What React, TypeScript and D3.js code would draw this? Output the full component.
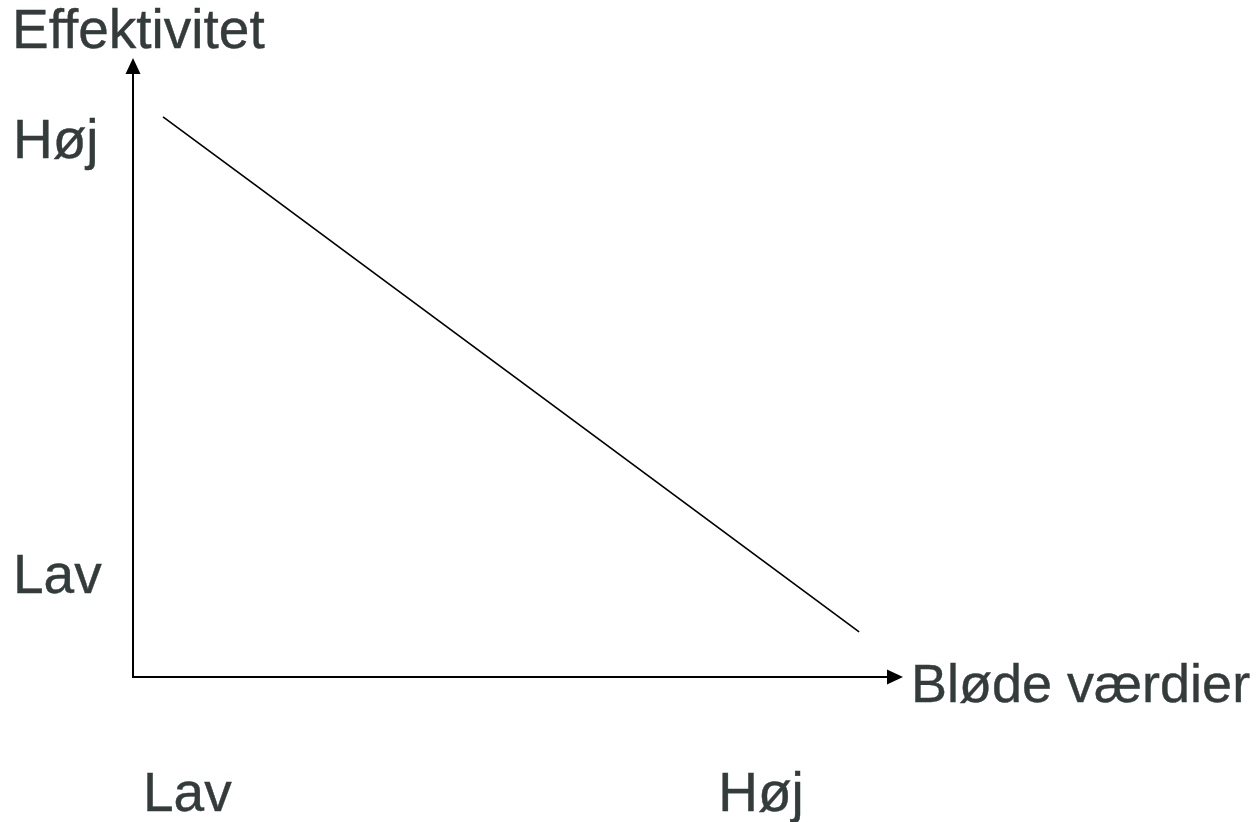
import React from "react";
import * as d3 from "d3";

const xTickLabels = ["Lav", "Høj"];
const xTickValues = [0.013, 0.76];
const yTickLabels = ["Lav", "Høj"];
const yTickValues = [0.136, 0.838];
const lineX = [0.039, 0.943];
const lineY = [0.905, 0.073];
const xTitle = "Bløde værdier";
const yTitle = "Effektivitet";

const W = 1260;
const H = 822;
const TEXT = "#343b3b";
const FONT = "'Liberation Sans', Arial, Helvetica, sans-serif";

export default function App() {
  const x = d3.scaleLinear().domain([0, 1]).range([133, 903]);
  const y = d3.scaleLinear().domain([0, 1]).range([677, 58]);
  const pts: [number, number][] = lineX.map((v, i) => [v, lineY[i]]);
  const line = d3
    .line<[number, number]>()
    .x((d) => x(d[0]))
    .y((d) => y(d[1]));
  const x0 = x(0);
  const y0 = y(0);
  const xEnd = x(1);
  const yEnd = y(1);
  const ah = 16;
  const aw = 7.5;
  const textStyle = { stroke: TEXT, strokeWidth: 0.4 };
  return (
    <svg
      width={W}
      height={H}
      style={{ position: "absolute", left: 0, top: 0, background: "#fff" }}
    >
      <rect width={W} height={H} fill="#fff" />
      {/* axes */}
      <line x1={x0} y1={y0} x2={x0} y2={yEnd + ah - 1} stroke="#000" strokeWidth={2} />
      <line x1={x0 - 1} y1={y0} x2={xEnd - ah + 1} y2={y0} stroke="#000" strokeWidth={2} />
      <path d={`M${x0},${yEnd} L${x0 - aw},${yEnd + ah} L${x0 + aw},${yEnd + ah} Z`} fill="#000" />
      <path d={`M${xEnd},${y0} L${xEnd - ah},${y0 - aw} L${xEnd - ah},${y0 + aw} Z`} fill="#000" />
      {/* trend line */}
      <path d={line(pts) || ""} fill="none" stroke="#000" strokeWidth={1.6} />
      {/* titles */}
      <text x={12} y={48} fontFamily={FONT} fontSize={55} fill={TEXT} style={textStyle}>
        {yTitle}
      </text>
      <text x={911} y={702} fontFamily={FONT} fontSize={54} fill={TEXT} style={textStyle}>
        {xTitle}
      </text>
      {/* y tick labels */}
      {yTickLabels.map((t, i) => (
        <text key={"y" + i} x={13} y={y(yTickValues[i])} fontFamily={FONT} fontSize={55} fill={TEXT} style={textStyle}>
          {t}
        </text>
      ))}
      {/* x tick labels */}
      {xTickLabels.map((t, i) => (
        <text key={"x" + i} x={x(xTickValues[i])} y={811} fontFamily={FONT} fontSize={55} fill={TEXT} style={textStyle}>
          {t}
        </text>
      ))}
    </svg>
  );
}
